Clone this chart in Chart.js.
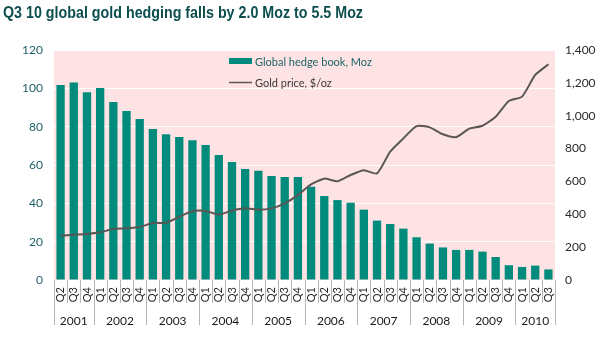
<!DOCTYPE html>
<html>
<head>
<meta charset="utf-8">
<script src="https://cdn.jsdelivr.net/npm/chart.js@4"></script>
<style>
  html, body { margin: 0; padding: 0; background: #ffffff; }
  #wrap { width: 607px; height: 339px; position: relative; }
</style>
</head>
<body>
<div id="wrap"><canvas id="chart"></canvas></div>
<script>
// quarter ticks, 2001 Q2 .. 2010 Q3
const quarterLabels = [
  'Q2','Q3','Q4',
  'Q1','Q2','Q3','Q4',
  'Q1','Q2','Q3','Q4',
  'Q1','Q2','Q3','Q4',
  'Q1','Q2','Q3','Q4',
  'Q1','Q2','Q3','Q4',
  'Q1','Q2','Q3','Q4',
  'Q1','Q2','Q3','Q4',
  'Q1','Q2','Q3','Q4',
  'Q1','Q2','Q3'
];
const yearLabels = ['2001','2002','2003','2004','2005','2006','2007','2008','2009','2010'];
const yearQuarterCounts = [3, 4, 4, 4, 4, 4, 4, 4, 4, 3];

// Global hedge book, Moz (left axis)
const hedgeBook = [
  101.7, 103.1, 97.9,
  100.2, 92.9, 88.2, 84.0,
  78.8, 76.0, 74.6, 72.9,
  70.4, 65.2, 61.6, 57.9,
  57.0, 54.3, 53.7, 53.7,
  48.7, 43.8, 41.7, 40.3,
  36.7, 31.0, 29.2, 26.8,
  22.3, 19.0, 17.0, 15.7,
  15.7, 14.8, 12.0, 7.7,
  6.8, 7.5, 5.5
];
// Gold price, $/oz (right axis)
const goldPrice = [
  270, 276, 280,
  290, 310, 314, 322,
  347, 349, 385, 418,
  420, 398, 422, 436,
  428, 436, 467, 517,
  582, 617, 601, 639,
  668, 649, 781, 862,
  937, 929, 887, 870,
  921, 939, 994, 1090,
  1116, 1248, 1313
];

const TEAL = '#008b7c';
const PINK = '#fde3e3';
const LINE = '#5b5555';
const FONT = 'Lato, "Open Sans", sans-serif';

// pink plot background, title, legend, x axis separators and year labels
const decorPlugin = {
  id: 'decor',
  beforeDraw(chart) {
    const { ctx, chartArea: a } = chart;
    ctx.save();
    ctx.fillStyle = PINK;
    ctx.fillRect(a.left, a.top, a.right - a.left, a.bottom - a.top);
    ctx.restore();
  },
  afterDraw(chart) {
    const { ctx, chartArea: a } = chart;
    const x = chart.scales.x;
    ctx.save();

    // title, squeezed a little like the condensed original
    ctx.font = 'bold 16px "Liberation Sans", Arial, sans-serif';
    ctx.fillStyle = '#0c4d4e';
    ctx.textBaseline = 'alphabetic';
    const title = 'Q3 10 global gold hedging falls by 2.0 Moz to 5.5 Moz';
    const w = ctx.measureText(title).width;
    ctx.save();
    ctx.translate(3, 18);
    ctx.scale(360 / w, 1);
    ctx.fillText(title, 0, 0);
    ctx.restore();

    // legend
    ctx.fillStyle = TEAL;
    ctx.fillRect(229, 58, 23, 6);
    ctx.strokeStyle = LINE;
    ctx.lineWidth = 1.5;
    ctx.beginPath();
    ctx.moveTo(229, 82.5);
    ctx.lineTo(252, 82.5);
    ctx.stroke();
    ctx.font = '11px ' + FONT;
    ctx.textBaseline = 'middle';
    ctx.textAlign = 'left';
    ctx.fillStyle = '#1d6466';
    ctx.fillText('Global hedge book, Moz', 255, 62);
    ctx.fillStyle = '#3a3a3a';
    ctx.fillText('Gold price, $/oz', 255, 83);

    // category separators
    const half = (x.getPixelForValue(1) - x.getPixelForValue(0)) / 2;
    const yearEdges = new Set([0]);
    let acc = 0;
    yearQuarterCounts.forEach(c => { acc += c; yearEdges.add(acc); });
    ctx.strokeStyle = '#b4b4b4';
    ctx.lineWidth = 1;
    for (let i = 0; i <= quarterLabels.length; i++) {
      const px = Math.round(x.getPixelForValue(i) - half) + 0.5;
      ctx.beginPath();
      ctx.moveTo(px, a.bottom);
      ctx.lineTo(px, yearEdges.has(i) ? a.bottom + 45 : a.bottom + 23);
      ctx.stroke();
    }

    // year labels
    ctx.font = '12px ' + FONT;
    ctx.fillStyle = '#1a1a1a';
    ctx.textAlign = 'center';
    ctx.textBaseline = 'alphabetic';
    let start = 0;
    yearLabels.forEach((yr, k) => {
      const end = start + yearQuarterCounts[k] - 1;
      const cx = (x.getPixelForValue(start) + x.getPixelForValue(end)) / 2;
      ctx.fillText(yr, cx, a.bottom + 45);
      start = end + 1;
    });
    ctx.restore();
  }
};

new Chart(document.getElementById('chart'), {
  type: 'bar',
  data: {
    labels: quarterLabels,
    datasets: [
      {
        type: 'line',
        label: 'Gold price, $/oz',
        data: goldPrice,
        yAxisID: 'y1',
        borderColor: LINE,
        borderWidth: 2,
        pointRadius: 0,
        tension: 0.2,
        order: 1
      },
      {
        label: 'Global hedge book, Moz',
        data: hedgeBook,
        yAxisID: 'y',
        backgroundColor: TEAL,
        categoryPercentage: 1,
        barPercentage: 0.63,
        order: 2
      }
    ]
  },
  options: {
    responsive: true,
    maintainAspectRatio: false,
    animation: false,
    layout: { padding: { top: 50, left: 0, right: 0, bottom: 0 } },
    plugins: {
      legend: { display: false },
      title: { display: false },
      tooltip: { enabled: false }
    },
    scales: {
      x: {
        grid: { display: false, drawTicks: false },
        border: { display: false },
        ticks: {
          autoSkip: false,
          maxRotation: 90,
          minRotation: 90,
          padding: 7,
          color: '#2a2a2a',
          font: { family: FONT, size: 11 }
        },
        afterFit(scale) { scale.height = 59; }
      },
      y: {
        position: 'left',
        min: 0,
        max: 120,
        ticks: {
          stepSize: 20,
          padding: 11,
          color: '#1d5f68',
          font: { family: FONT, size: 12 }
        },
        grid: { color: '#ffffff', lineWidth: 1, drawTicks: false },
        border: { display: false },
        afterFit(scale) { scale.width = 54; }
      },
      y1: {
        position: 'right',
        min: 0,
        max: 1400,
        ticks: {
          stepSize: 200,
          padding: 10,
          color: '#2a2a2a',
          font: { family: FONT, size: 12 },
          callback: v => v.toLocaleString('en-US')
        },
        grid: { display: false, drawTicks: false },
        border: { display: false },
        afterFit(scale) { scale.width = 52; }
      }
    }
  },
  plugins: [decorPlugin]
});
</script>
</body>
</html>
